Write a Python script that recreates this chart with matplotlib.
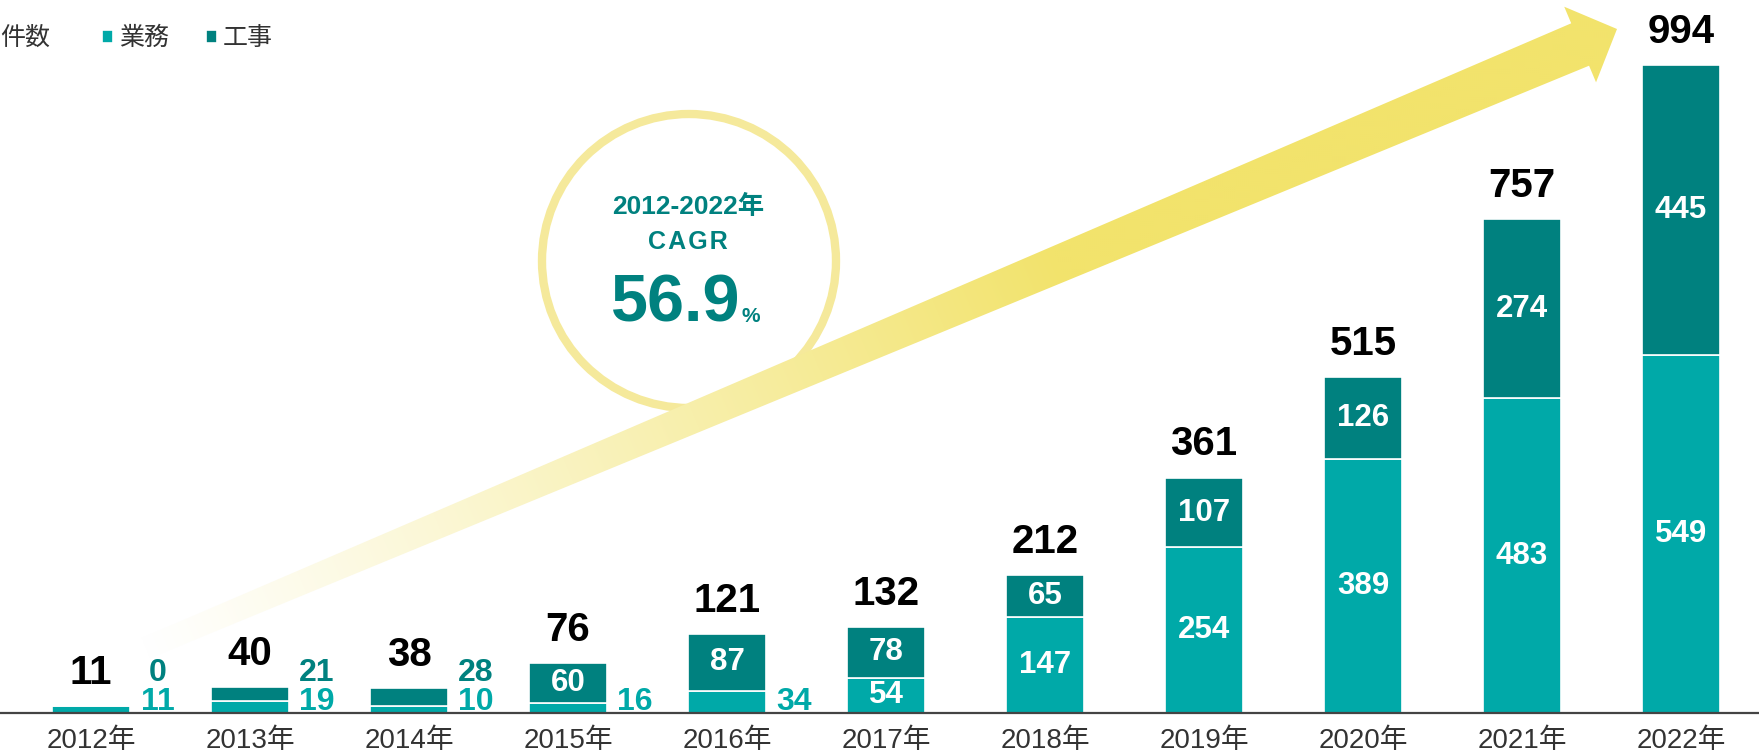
import numpy as np
import matplotlib.pyplot as plt
from matplotlib.patches import Polygon, Circle

years = ["2012年", "2013年", "2014年", "2015年", "2016年", "2017年",
         "2018年", "2019年", "2020年", "2021年", "2022年"]
gyomu = [11, 19, 10, 16, 34, 54, 147, 254, 389, 483, 549]
kouji = [0, 21, 28, 60, 87, 78, 65, 107, 126, 274, 445]
legend_labels = ["業務", "工事"]
cagr_period = "2012-2022年"
cagr_value = "56.9"

C_LIGHT = "#00A9A8"
C_DARK = "#00817F"
YELLOW = np.array([242, 227, 108]) / 255.0
NUM = ["Liberation Sans", "Noto Sans CJK JP", "DejaVu Sans"]
CJK = ["Noto Sans CJK JP", "DejaVu Sans"]

W, H = 1759, 755
fig = plt.figure(figsize=(W / 100, H / 100), dpi=100)

# overlay in pixel coords: arrow + circle
ov = fig.add_axes([0, 0, 1, 1], zorder=0)
ov.set_xlim(0, W)
ov.set_ylim(H, 0)
ov.set_axis_off()

tail = np.array([146.0, 648.0])
tip = np.array([1617.0, 29.0])
d = tip - tail
L = np.hypot(*d)
d = d / L
n = np.array([-d[1], d[0]])
head_len, head_hw = 40, 41
base = tip - head_len * d
hw0, hw1 = 11, 23
pts = [tail + hw0 * n, base + hw1 * n, base + head_hw * n, tip,
       base - head_hw * n, base - hw1 * n, tail - hw0 * n]
poly = Polygon(pts, closed=True, facecolor="none", edgecolor="none")
ov.add_patch(poly)

X, Y = np.meshgrid(np.arange(0, W, 2) + 1, np.arange(0, H, 2) + 1)
t = ((X - tail[0]) * d[0] + (Y - tail[1]) * d[1]) / L
f = np.clip(t / 0.62, 0, 1) ** 1.1
rgb = (1 - f[..., None]) * 1.0 + f[..., None] * YELLOW
img = ov.imshow(rgb, extent=(0, W, H, 0), origin="upper", aspect="auto",
                interpolation="bilinear", zorder=2)
img.set_clip_path(poly)

ring = Circle((689, 261), 147, facecolor="white", edgecolor="#F5E99B",
              linewidth=6, zorder=1)
ov.add_patch(ring)
ov.text(688, 207, cagr_period, color=C_DARK, fontsize=19, fontweight="bold",
        family=NUM, ha="center", va="center", zorder=3)
ov.text(688, 242, "C\u200aA\u200aG\u200aR", color=C_DARK, fontsize=18,
        fontweight="bold", family=NUM, ha="center", va="center", zorder=3)
ov.text(740, 322, cagr_value, color=C_DARK, fontsize=48, fontweight="bold",
        family=NUM, ha="right", va="baseline", zorder=3)
ov.text(742, 322, "%", color=C_DARK, fontsize=15, fontweight="bold",
        family=NUM, ha="left", va="baseline", zorder=3)

# bars
ax = fig.add_axes([0, 42 / H, 1, 713 / H], zorder=1)
ax.patch.set_alpha(0)
x = np.arange(len(years))
b1 = ax.bar(x, gyomu, width=0.49, color=C_LIGHT, edgecolor="white", linewidth=1.2)
b2 = ax.bar(x, kouji, width=0.49, bottom=gyomu, color=C_DARK,
            edgecolor="white", linewidth=1.2)
ax.set_xlim(-0.572, 10.49)
ax.set_ylim(0, 1093.7)
for s in ["top", "left", "right"]:
    ax.spines[s].set_visible(False)
ax.spines["bottom"].set_color("#444444")
ax.spines["bottom"].set_linewidth(1.6)
ax.set_yticks([])
ax.set_xticks(x)
ax.set_xticklabels(years, fontsize=20, color="#333333", family=NUM)
ax.tick_params(axis="x", length=0, pad=11)

for i in range(len(years)):
    g, k = gyomu[i], kouji[i]
    total = g + k
    ax.annotate(str(total), (x[i], total), xytext=(0, 16), textcoords="offset points",
                ha="center", va="baseline", fontsize=29, fontweight="bold",
                family=NUM, color="black")
    if g < 40:
        ax.text(x[i] + 0.42, 17, str(g), ha="center", va="center", fontsize=23,
                fontweight="bold", family=NUM, color=C_LIGHT)
    else:
        ax.text(x[i], g / 2, str(g), ha="center", va="center", fontsize=22.5,
                fontweight="bold", family=NUM, color="white")
    if k < 40:
        ax.text(x[i] + 0.42, 62, str(k), ha="center", va="center", fontsize=23,
                fontweight="bold", family=NUM, color=C_DARK)
    else:
        ax.text(x[i], g + k / 2, str(k), ha="center", va="center", fontsize=22.5,
                fontweight="bold", family=NUM, color="white")

# legend
fig.text(0, 1 - 38 / H, "件数", fontsize=18, color="#333333", family=CJK,
         ha="left", va="center")
fig.legend([b1, b2], legend_labels, loc="center left",
           bbox_to_anchor=(102 / W, 1 - 38 / H), ncol=2, frameon=False,
           prop={"family": CJK, "size": 18}, labelcolor="#333333",
           handlelength=0.42, handleheight=0.42, handletextpad=0.25,
           columnspacing=1.5, borderpad=0, borderaxespad=0)

fig.savefig("out.png", dpi=100)
